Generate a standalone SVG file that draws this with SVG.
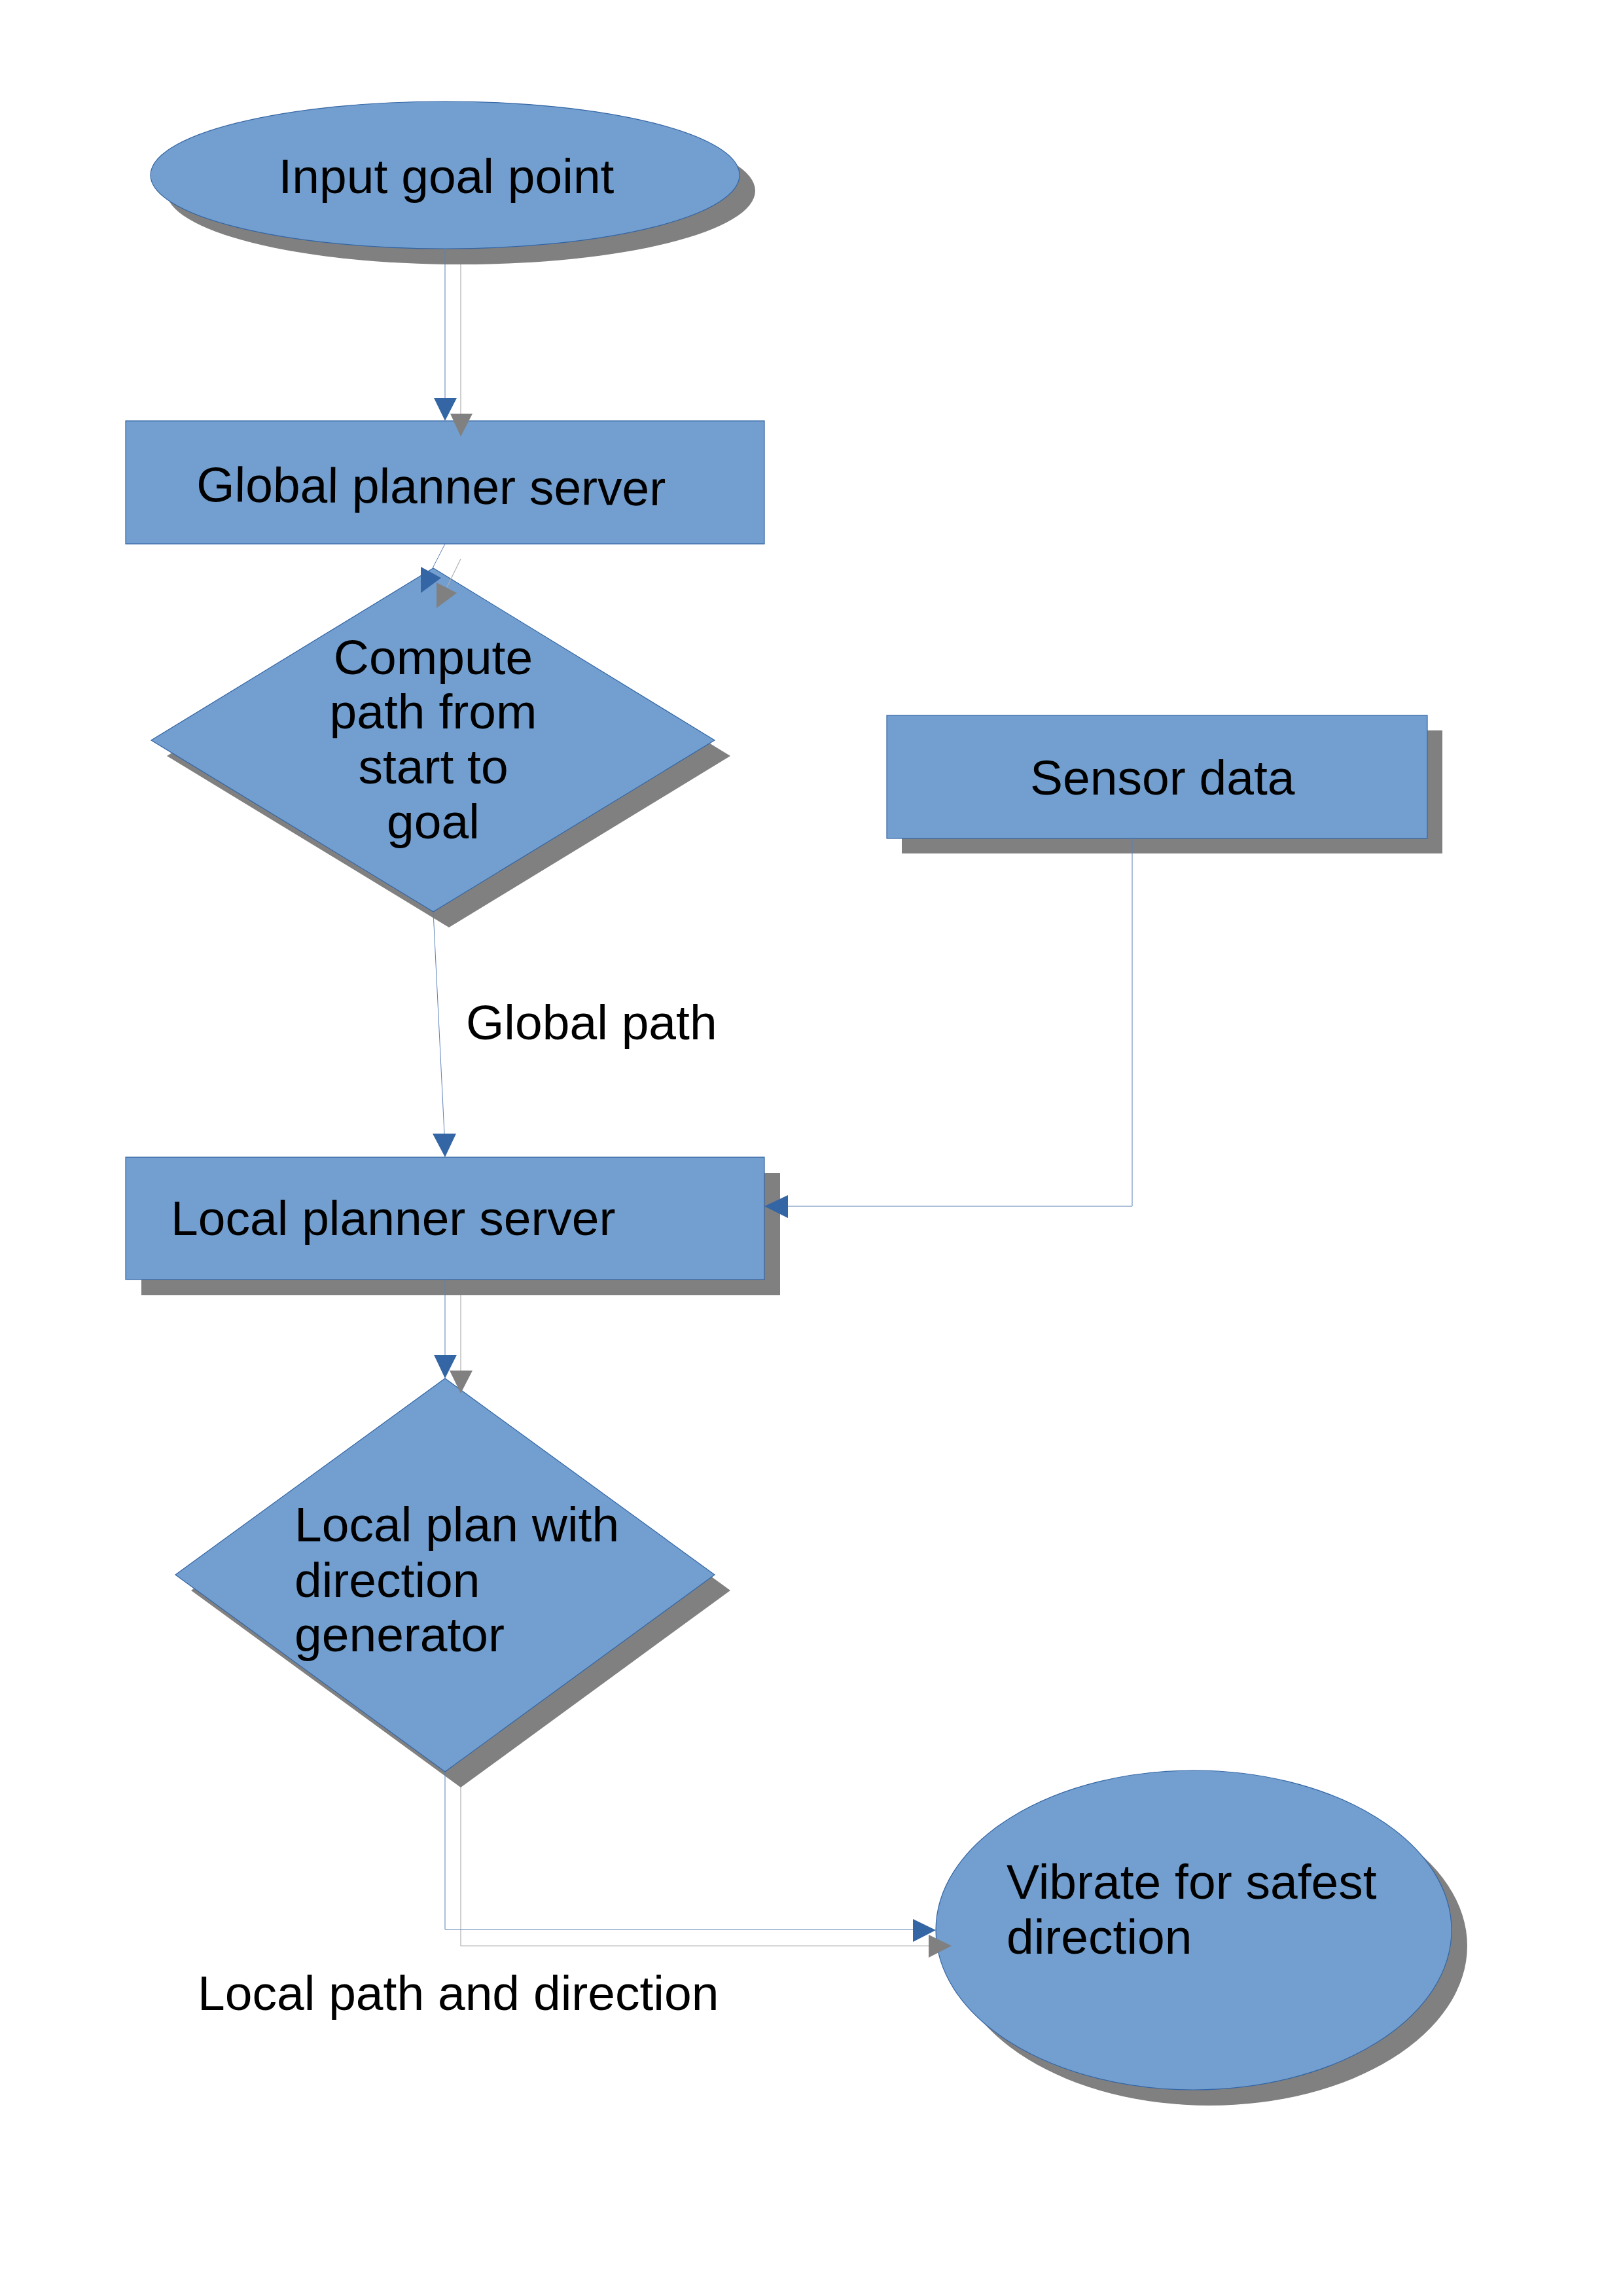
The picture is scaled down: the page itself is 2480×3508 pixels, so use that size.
<svg xmlns="http://www.w3.org/2000/svg" width="2480" height="3508" viewBox="0 0 2480 3508">
<style>
.shape{fill:#729fcf;stroke:#3465a4;stroke-width:1.2}
.shadow{fill:#808080}
.lbl{font-family:"Liberation Sans",Arial,sans-serif;font-size:75px;fill:#000}
.c{fill:none;stroke:#5b80b8;stroke-width:1}
.cs{fill:none;stroke:#b0b0b0;stroke-width:1.2}
.ah{fill:#3465a4}
.ahs{fill:#808080}
</style>
<rect width="2480" height="3508" fill="#ffffff"/>

<g id="node-input">
<ellipse class="shadow" cx="704" cy="291.5" rx="450" ry="112.5"/>
<ellipse class="shape" cx="680" cy="267.5" rx="450" ry="112.5"/>
<text class="lbl" x="682" y="295" text-anchor="middle">Input goal point</text>
</g>

<g id="node-global">
<rect class="shape" x="192" y="643" width="976" height="188"/>
<text class="lbl" x="300" y="766" transform="rotate(0.5 300 766)">Global planner server</text>
</g>

<g id="node-compute">
<polygon class="shadow" points="686,892 255,1155 686,1417 1116,1155"/>
<polygon class="shape" points="662,868 231,1131 662,1393 1092,1131"/>
<text class="lbl" text-anchor="middle"><tspan x="662" y="1030">Compute</tspan><tspan x="662" y="1113">path from</tspan><tspan x="662" y="1197">start to</tspan><tspan x="662" y="1281">goal</tspan></text>
</g>

<g id="node-sensor">
<rect class="shadow" x="1378" y="1116" width="826" height="188"/>
<rect class="shape" x="1355" y="1093" width="826" height="188"/>
<text class="lbl" x="1574" y="1214">Sensor data</text>
</g>

<g id="node-local">
<rect class="shadow" x="216" y="1792" width="976" height="187"/>
<rect class="shape" x="192" y="1768" width="976" height="187"/>
<text class="lbl" x="261" y="1887">Local planner server</text>
</g>

<g id="node-localplan">
<polygon class="shadow" points="704,2130 292,2430 704,2731 1116,2430"/>
<polygon class="shape" points="680,2106 268,2406 680,2707 1092,2406"/>
<text class="lbl"><tspan x="450" y="2355">Local plan with</tspan><tspan x="450" y="2440">direction</tspan><tspan x="450" y="2523">generator</tspan></text>
</g>

<g id="node-vibrate">
<ellipse class="shadow" cx="1848" cy="2973" rx="394" ry="244"/>
<ellipse class="shape" cx="1824" cy="2949" rx="394" ry="244"/>
<text class="lbl"><tspan x="1538" y="2901">Vibrate for safest</tspan><tspan x="1538" y="2985">direction</tspan></text>
</g>

<g id="connectors">
<g id="connector-shadows">
<line class="cs" x1="704" y1="404" x2="704" y2="632"/>
<polygon class="ahs" points="688,632 722,632 704,667"/>
<line class="cs" x1="704" y1="854" x2="683" y2="897"/>
<polygon class="ahs" points="667,890 667,929 698,906"/>
<line class="cs" x1="704" y1="1979" x2="704" y2="2094"/>
<polygon class="ahs" points="687,2094 722,2094 704,2129"/>
<polyline class="cs" points="704,2731 704,2973 1419,2973"/>
<polygon class="ahs" points="1419,2956 1419,2991 1454,2973"/>
</g>
<line class="c" x1="680" y1="380" x2="680" y2="608"/>
<polygon class="ah" points="663,608 698,608 680,643"/>
<line class="c" x1="680" y1="831" x2="660" y2="870"/>
<polygon class="ah" points="643,866 643,906 674,883"/>
<line class="c" x1="662" y1="1393" x2="679" y2="1732"/>
<polygon class="ah" points="661,1732 697,1732 680,1768"/>
<polyline class="c" points="1730,1281 1730,1843 1204,1843"/>
<polygon class="ah" points="1204,1826 1204,1861 1168,1843"/>
<line class="c" x1="680" y1="1955" x2="680" y2="2070"/>
<polygon class="ah" points="663,2070 698,2070 680,2106"/>
<polyline class="c" points="680,2707 680,2948 1395,2948"/>
<polygon class="ah" points="1395,2932 1395,2967 1430,2949"/>
</g>

<g id="labels">
<text class="lbl" x="712" y="1588">Global path</text>
<text class="lbl" x="302" y="3071">Local path and direction</text>
</g>
</svg>
